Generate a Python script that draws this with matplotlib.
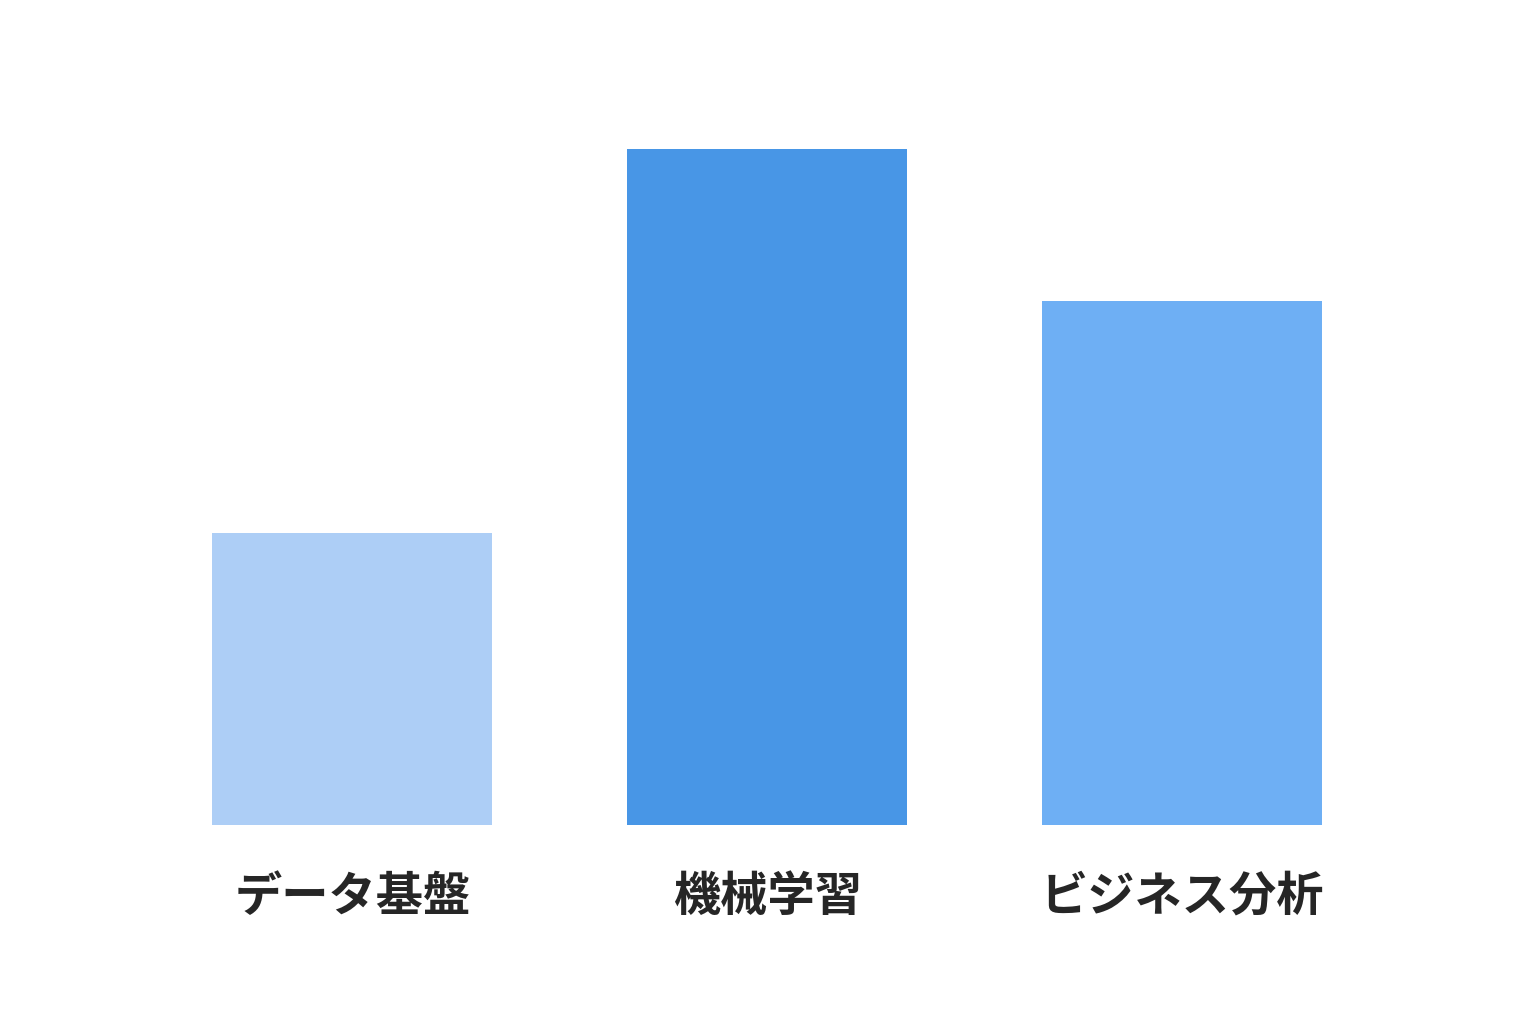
import matplotlib
matplotlib.use("Agg")
import matplotlib.pyplot as plt

plt.rcParams["font.family"] = ["Noto Sans CJK JP", "DejaVu Sans"]

categories = ["データ基盤", "機械学習", "ビジネス分析"]
values = [43.2, 100, 77.5]
colors = ["#ADCEF6", "#4896E6", "#6EAFF4"]

fig = plt.figure(figsize=(15.36, 10.24), dpi=100)
ax = fig.add_axes([0, 0, 1, 1])
x = range(len(categories))
ax.bar(x, values, width=0.675, color=colors)

for i, name in enumerate(categories):
    ax.text(i, -10.6, name, ha="center", va="center", fontsize=34,
            fontweight="bold", color="#262626")

ax.set_xlim(-0.849, 2.852)
ax.set_ylim(-29.44, 122.04)
ax.axis("off")

plt.savefig("out.png", dpi=100, facecolor="white")
